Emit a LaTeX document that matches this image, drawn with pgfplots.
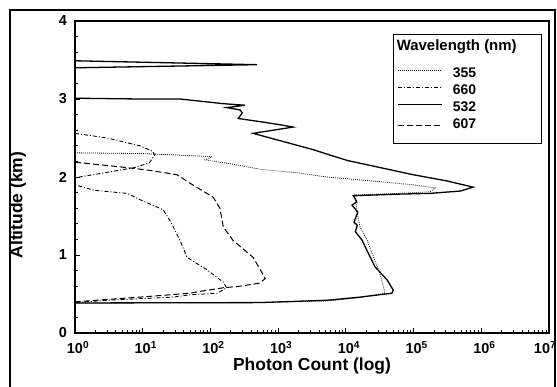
\documentclass[border=0pt]{standalone}
\usepackage{fontspec}
\setmainfont{Liberation Sans}
\usepackage{pgfplots}
\pgfplotsset{compat=1.18}
\begin{document}
\begin{tikzpicture}[x=1bp,y=1bp]
\useasboundingbox (0,0) rectangle (557,386);
\draw[line width=1.4bp] (10,-2) -- (10,376) -- (555,376) -- (555,-2);
\begin{axis}[
  at={(75bp,53bp)}, anchor=south west,
  width=474bp, height=312bp, scale only axis,
  xmode=log, xmin=1, xmax=1e7, ymin=0, ymax=4,
  xtick={1,10,100,1000,10000,100000,1000000,10000000},
  xticklabels={10\rlap{\textsuperscript{0}},10\rlap{\textsuperscript{1}},10\rlap{\textsuperscript{2}},10\rlap{\textsuperscript{3}},10\rlap{\textsuperscript{4}},10\rlap{\textsuperscript{5}},10\rlap{\textsuperscript{6}},\hspace*{-14bp}10\rlap{\textsuperscript{7}}},
  ytick={0,1,2,3,4}, yticklabels={0,1,2,3,4},
  minor y tick num=4,
  tick align=inside, xtick pos=bottom, ytick pos=left,
  major tick length=5bp, minor tick length=3bp,
  every tick/.style={black, line width=0.8bp},
  axis line style={line width=1.2bp},
  tick label style={font=\bfseries\fontsize{14.5}{15}\selectfont, inner sep=0bp},
  yticklabel style={xshift=-8bp},
  xticklabel style={yshift=-8bp},
  xlabel={Photon Count (log)},
  ylabel={Altitude (km)},
  label style={font=\bfseries\fontsize{17.5}{18}\selectfont},
  xlabel style={at={(axis description cs:0.5,0)}, anchor=center, yshift=-33bp},
  ylabel style={at={(axis description cs:-0.1203,0.41)}, anchor=center},
  legend cell align=left,
  legend style={at={(0.671,0.958)}, anchor=north west, draw=black, line width=0.9bp,
    inner xsep=4bp, inner ysep=3bp, row sep=0bp,
    font=\bfseries\fontsize{14}{15}\selectfont,
    nodes={inner sep=2bp, text height=10bp, text depth=3bp}},
  legend image code/.code={\draw[#1] (0bp,3.5bp) -- (44bp,3.5bp);},
]
\addlegendimage{empty legend}
\addlegendentry[text height=11bp, text depth=13bp]{\hspace*{-48bp}\fontsize{15}{16}\selectfont Wavelength (nm)\hspace*{19bp}}

% 355 nm
\addplot[black, line width=0.8bp, dash pattern=on 0.8bp off 1.2bp] coordinates {
(1,2.31) (10,2.30) (35.5,2.28) (105,2.26) (83,2.22) (195,2.17) (537,2.10)
(2089,2.05) (5248,2.00) (32359,1.94) (97724,1.90) (208930,1.86) (173780,1.81)
(57544,1.79) (12882,1.77) (14000,1.70) (15000,1.50) (16218,1.36) (20417,1.20)
(25000,1.00) (31623,0.77) (38019,0.51) (14791,0.45) (5248,0.41) (537,0.39) (1,0.385)
};
\addlegendentry{\hspace*{8bp}355}

% 660 nm
\addplot[black, line width=0.9bp, dash pattern=on 4bp off 2bp on 1bp off 2bp] coordinates {
(1,2.56) (3,2.50) (9.1,2.40) (14,2.33) (15,2.28) (12.5,2.18) (7.5,2.12) (3,2.06) (1,1.99)
(1,1.90) (1.9,1.83) (5.9,1.79) (9.1,1.71) (20,1.58) (25,1.45) (35.5,1.19) (45,0.97)
(89,0.81) (155,0.65) (174,0.58) (126,0.51) (50,0.49) (28,0.46) (3,0.42) (1,0.39)
};
\addlegendentry{\hspace*{8bp}660}

% 532 nm
\addplot[black, line width=1.3bp] coordinates {
(1,3.49) (490,3.44) (1,3.40) (1,3.01) (9.1,3.00) (35.5,3.00) (155,2.94) (324,2.92)
(174,2.89) (275,2.86) (295,2.82) (257,2.75) (537,2.71) (1072,2.67) (1660,2.64)
(427,2.56) (692,2.51) (1514,2.43) (3311,2.35) (5888,2.28) (10715,2.21) (32359,2.12)
(97724,2.03) (309030,1.95) (758578,1.87) (489779,1.82) (173780,1.79) (57544,1.78)
(12882,1.76) (13800,1.72) (14454,1.68) (12303,1.64) (15000,1.55) (13200,1.42)
(14791,1.38) (13804,1.30) (17378,1.19) (20417,1.06) (26915,0.85) (40738,0.68)
(50119,0.55) (47863,0.51) (16218,0.46) (5248,0.42) (537,0.39) (1,0.385)
};
\addlegendentry{\hspace*{8bp}532}

% 607 nm
\addplot[black, line width=1bp, dash pattern=on 6bp off 3bp] coordinates {
(1,2.19) (4.6,2.13) (11.5,2.09) (32,2.03) (50,1.92) (110,1.74) (138,1.60) (155,1.36)
(214,1.19) (427,0.97) (646,0.70) (537,0.64) (275,0.60) (155,0.58) (78,0.54) (50,0.51)
(9.1,0.46) (1,0.40)
};
\addlegendentry[text depth=10bp]{\hspace*{8bp}607}
\end{axis}
\end{tikzpicture}
\end{document}
